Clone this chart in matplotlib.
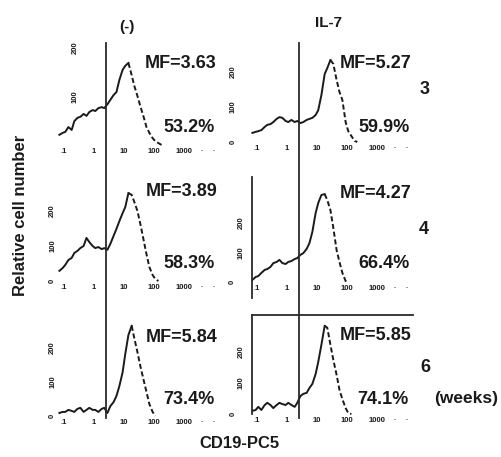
import matplotlib
matplotlib.use("Agg")
import numpy as np
import matplotlib.pyplot as plt
from matplotlib.lines import Line2D
from matplotlib.transforms import blended_transform_factory

plt.rcParams['font.family'] = ['Liberation Sans', 'DejaVu Sans']

W, H, DPI = 501, 457, 100

# CD19-PC5 fluorescence channels shared by every histogram
fluor = [0.07, 0.09, 0.11, 0.14, 0.18, 0.22, 0.28, 0.35, 0.45, 0.56, 0.7, 0.9,
         1.1, 1.4, 1.8, 2.2, 2.8, 3.5, 4.5, 5.6, 7, 9, 11, 14, 18, 22, 28, 35,
         45, 56, 70, 90, 110, 140, 180, 220]

# Relative cell number per channel: control (-) and IL-7 cultures at 3, 4, 6 weeks
ctrl_wk3 = [21, 25, 27, 37, 31, 49, 56, 58, 64, 60, 68, 72, 70, 76, 78, 76, 84, 93,
            103, 109, 134, 155, 163, 169, 144, 122, 101, 80, 58, 37, 25, 14, 8, 4, 0]
il7_wk3 = [26, 29, 31, 34, 43, 49, 51, 57, 66, 71, 69, 60, 57, 63, 57, 60, 54, 57,
           63, 66, 69, 77, 91, 134, 194, 211, 234, 223, 177, 143, 120, 57, 31, 17, 3, 0]
ctrl_wk4 = [29, 37, 46, 60, 66, 80, 86, 94, 100, 123, 111, 100, 94, 97, 91, 94, 89,
            106, 129, 149, 171, 194, 211, 251, 246, 226, 200, 163, 117, 77, 40, 17, 6, 0]
il7_wk4 = [7, 17, 20, 31, 41, 44, 51, 64, 68, 75, 64, 61, 68, 71, 78, 81, 92, 98,
           112, 132, 170, 234, 268, 295, 298, 278, 244, 183, 108, 68, 31, 3, 0]
ctrl_wk6 = [9, 12, 12, 18, 15, 12, 21, 24, 12, 18, 24, 18, 18, 12, 21, 24, 9, 29,
            41, 59, 88, 129, 182, 238, 265, 229, 188, 147, 106, 71, 35, 12, 0]
il7_wk6 = [10, 13, 23, 13, 29, 36, 29, 19, 29, 36, 32, 29, 36, 29, 23, 36, 58, 65,
           68, 84, 97, 129, 168, 223, 284, 278, 223, 174, 126, 78, 48, 19, 3, 0]

mf_labels = ["MF=3.63", "MF=5.27", "MF=3.89", "MF=4.27", "MF=5.84", "MF=5.85"]
pct_labels = ["53.2%", "59.9%", "58.3%", "66.4%", "73.4%", "74.1%"]
col_titles = ["(-)", "IL-7"]
week_labels = ["3", "4", "6"]
gate = 2.5

xticks = [0.1, 1, 10, 100, 1000, 4000, 10000]
xticklabels = [".1", "1", "10", "100", "1000", "\u00b7", "\u00b7"]

INK = "#1a1a1a"

fig = plt.figure(figsize=(W / DPI, H / DPI), dpi=DPI)
fig.patch.set_facecolor("white")


def fx(px):
    return px / W


def fy(py):
    return 1 - py / H


col_left = [59, 252]
col_w = 161
xlim = (0.068, 15849)

# (series, column, baseline px, top px, y max, ytick pads [0,100,200] in pt, spines)
panels = [
    (ctrl_wk3, 0, 145, 45, 206, None, []),
    (il7_wk3, 1, 142, 45, 277, (11, 11, 11), []),
    (ctrl_wk4, 0, 281, 177, 297, (2, 2, 2), []),
    (il7_wk4, 1, 282, 177, 356, (11.5, 5.4, 5.4), ["left"]),
    (ctrl_wk6, 0, 416, 315, 297, (2, 2, 2), []),
    (il7_wk6, 1, 414, 315, 319, (11, 5.4, 5.4), ["left", "top"]),
]

axes = []
for i, (counts, col, y0, top, ymax, pads, spines) in enumerate(panels):
    ax = fig.add_axes([fx(col_left[col]), fy(y0), col_w / W, (y0 - top) / H])
    ax.set_facecolor("none")
    ax.set_xscale("log")
    ax.set_xlim(*xlim)
    ax.set_ylim(0, ymax)
    for name, sp in ax.spines.items():
        sp.set_visible(name in spines)
        sp.set_color("#2a2a2a")
        sp.set_linewidth(1.3)
    if "left" in spines and "top" not in spines:
        ax.spines["left"].set_bounds(-55, ymax)

    xs = fluor[:len(counts)]
    k = int(np.argmax(counts))
    ax.plot(xs[:k + 1], counts[:k + 1], color=INK, lw=1.4, clip_on=False)
    ax.plot(xs[k:], counts[k:], color=INK, lw=1.4, ls=(0, (2.6, 1.4)), clip_on=False)

    ax.set_xticks(xticks)
    ax.set_xticklabels(xticklabels)
    ax.xaxis.set_minor_locator(matplotlib.ticker.NullLocator())
    ax.tick_params(axis="x", length=0, pad=2.5, labelsize=5.5, colors=INK)
    for lab in ax.get_xticklabels():
        lab.set_fontweight("bold")

    if pads is None:
        ax.set_yticks([100, 200])
        ax.set_yticklabels(["100", "200"], rotation=90, va="center")
        ax.tick_params(axis="y", length=0, pad=-14, labelsize=5.5, colors=INK)
    else:
        ax.set_yticks([0, 100, 200])
        ax.set_yticklabels(["0", "100", "200"], rotation=90, va="center")
        ax.tick_params(axis="y", length=0, labelsize=5.5, colors=INK)
        for tick, p in zip(ax.yaxis.get_major_ticks(), pads):
            tick.set_pad(p)
    for lab in ax.get_yticklabels():
        lab.set_fontweight("bold")
    axes.append(ax)

# Gating lines through each column
for ax in axes[:2]:
    tr = blended_transform_factory(ax.transData, fig.transFigure)
    fig.add_artist(Line2D([gate, gate], [fy(43), fy(418)], transform=tr,
                          color="#2a2a2a", lw=1.3))

big = dict(fontsize=13, fontweight="bold", color=INK, ha="center", va="center")

mf_pos = [(181, 63), (376, 64), (182, 192), (376, 193), (182, 337), (376, 335)]
pct_pos = [(189, 128), (384, 128), (189, 263), (384, 263), (189, 400), (383, 400)]
for t, (x, y) in zip(mf_labels, mf_pos):
    fig.text(fx(x), fy(y), t, **big)
for t, (x, y) in zip(pct_labels, pct_pos):
    fig.text(fx(x), fy(y), t, **big)

fig.text(fx(127), fy(27), col_titles[0], fontsize=11, fontweight="bold", color=INK,
         ha="center", va="center")
fig.text(fx(329), fy(23), col_titles[1], fontsize=11, fontweight="bold", color=INK,
         ha="center", va="center")

for t, (x, y) in zip(week_labels, [(425, 90), (424, 229), (425, 367)]):
    fig.text(fx(x), fy(y), t, **big)
fig.text(fx(466), fy(399), "(weeks)", fontsize=12.5, fontweight="bold", color=INK,
         ha="center", va="center")

fig.text(fx(21), fy(215), "Relative cell number", rotation=90, fontsize=12,
         fontweight="bold", color=INK, ha="center", va="center")
fig.text(fx(239), fy(444), "CD19-PC5", fontsize=12, fontweight="bold", color=INK,
         ha="center", va="center")

fig.savefig("out.png", dpi=DPI, facecolor="white")
